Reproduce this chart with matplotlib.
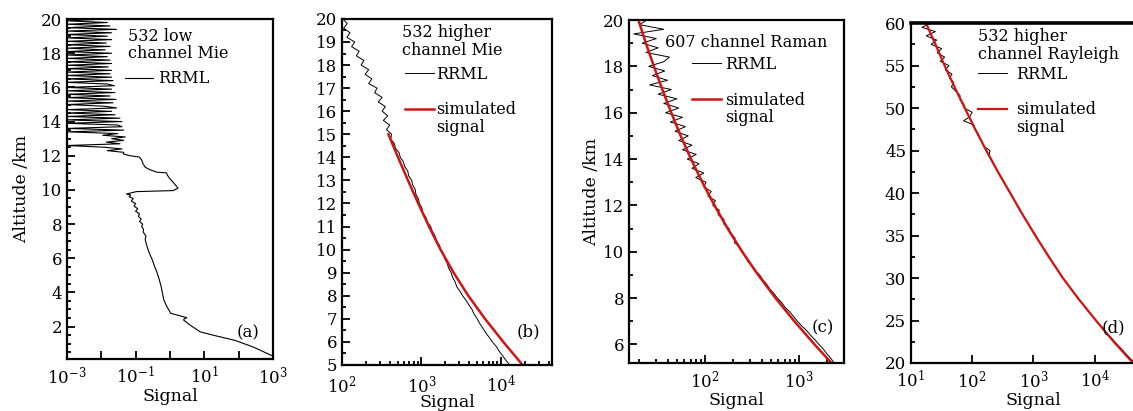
import numpy as np
import matplotlib
matplotlib.use('Agg')
from matplotlib import pyplot as plt
from matplotlib.lines import Line2D
from matplotlib.ticker import LogLocator, NullFormatter

plt.rcParams['font.family'] = 'DejaVu Serif'
plt.rcParams['mathtext.fontset'] = 'dejavuserif'

# (a) 532 low channel Mie, smooth part (km, signal)
a_alt_low = [0.30, 0.79, 1.19, 1.49, 1.69, 2.08, 2.38, 2.45, 2.52, 2.60, 2.78, 3.2, 3.57, 4.0,
             4.37, 4.8, 5.16, 5.5, 5.95, 6.3, 6.75, 7.1, 7.3, 7.54, 7.7, 7.85, 8.0, 8.15, 8.3,
             8.45, 8.6, 8.75, 8.9, 9.05, 9.2, 9.35, 9.5, 9.6, 9.7, 9.76, 9.9, 9.96, 10.1, 10.4,
             10.65, 10.85, 11.0, 11.04, 11.2, 11.33, 11.53, 11.75, 11.92, 12.0, 12.1]
a_sig_low = [930, 275, 79, 18.6, 7.6, 3.9, 2.5, 2.6, 3.1, 2.2, 1.05, 0.80, 0.66, 0.60,
             0.55, 0.48, 0.42, 0.36, 0.30, 0.25, 0.21, 0.19, 0.20, 0.166, 0.17, 0.15, 0.16, 0.13, 0.145,
             0.12, 0.13, 0.10, 0.115, 0.09, 0.10, 0.075, 0.085, 0.065, 0.072, 0.054, 0.105, 1.23, 1.72, 1.3,
             1.0, 0.85, 0.79, 0.41, 0.25, 0.19, 0.165, 0.15, 0.13, 0.07, 0.044]
# noisy part, 12.2 .. 20.0 km every 0.1 km
a_sig_noise = [0.045, 0.015, 0.04, 0.012, 0.001, 0.035, 0.014, 0.045, 0.02, 0.05,
               0.011, 0.03, 0.001, 0.045, 0.001, 0.04, 0.03, 0.001, 0.04, 0.001,
               0.035, 0.001, 0.025, 0.001, 0.02, 0.001, 0.028, 0.012, 0.001, 0.022,
               0.001, 0.027, 0.001, 0.018, 0.001, 0.025, 0.001, 0.02, 0.001, 0.024,
               0.015, 0.001, 0.022, 0.001, 0.02, 0.001, 0.018, 0.001, 0.02, 0.001,
               0.016, 0.001, 0.02, 0.001, 0.018, 0.001, 0.015, 0.001, 0.02, 0.001,
               0.013, 0.001, 0.018, 0.001, 0.014, 0.001, 0.02, 0.001, 0.015, 0.001,
               0.02, 0.001, 0.028, 0.001, 0.018, 0.001, 0.015, 0.001, 0.012]

# (b) 532 higher channel Mie, log10(signal), 5 .. 20 km every 0.2 km
b_rrml_lg = [4.110, 4.063, 4.022, 3.978, 3.942, 3.893, 3.852, 3.808, 3.772, 3.733,
             3.702, 3.663, 3.637, 3.598, 3.562, 3.518, 3.483, 3.443, 3.424, 3.391,
             3.374, 3.342, 3.324, 3.294, 3.276, 3.241, 3.225, 3.186, 3.170, 3.135,
             3.116, 3.075, 3.056, 3.014, 3.006, 2.974, 2.962, 2.929, 2.922, 2.888,
             2.878, 2.838, 2.828, 2.788, 2.773, 2.733, 2.718, 2.672, 2.658, 2.612,
             2.625, 2.560, 2.600, 2.520, 2.575, 2.505, 2.545, 2.455, 2.505, 2.410,
             2.440, 2.335, 2.375, 2.290, 2.335, 2.240, 2.275, 2.180, 2.215, 2.120,
             2.160, 2.060, 2.100, 2.020, 2.065, 2.010]
b_sim_alt = [5.0, 6.0, 7.0, 8.0, 9.0, 10.0, 11.0, 12.0, 13.0, 14.0, 15.0]
b_sim_lg = [4.273, 4.03, 3.80, 3.59, 3.405, 3.24, 3.095, 2.96, 2.83, 2.705, 2.584]

# (c) 607 channel Raman, 5.2 .. 20 km every 0.2 km
c_rrml_lg = [3.375, 3.338, 3.296, 3.258, 3.212, 3.170, 3.122, 3.080, 3.028, 2.982,
             2.943, 2.903, 2.851, 2.817, 2.769, 2.733, 2.687, 2.655, 2.613, 2.581,
             2.522, 2.496, 2.452, 2.430, 2.392, 2.368, 2.312, 2.318, 2.262, 2.255,
             2.198, 2.200, 2.138, 2.150, 2.082, 2.110, 2.030, 2.065, 1.985, 2.010,
             1.900, 1.985, 1.860, 1.935, 1.810, 1.905, 1.760, 1.860, 1.720, 1.820,
             1.680, 1.790, 1.630, 1.760, 1.580, 1.720, 1.560, 1.700, 1.500, 1.640,
             1.410, 1.600, 1.440, 1.570, 1.400, 1.560, 1.620, 1.370, 1.500, 1.330,
             1.480, 1.240, 1.560, 1.300, 1.380]
c_sim_alt = [5.2, 6.0, 7.0, 8.0, 9.0, 10.0, 11.0, 12.0, 13.0, 14.0, 15.0, 16.0, 17.0, 18.0, 19.0, 20.0]
c_sim_lg = [3.345, 3.165, 2.95, 2.75, 2.565, 2.395, 2.24, 2.10, 1.97, 1.85, 1.74, 1.64, 1.545, 1.455, 1.37, 1.29]

# (d) 532 higher channel Rayleigh
d_rrml_alt_lo = [20, 22, 24, 26, 28, 30, 32, 34, 36, 38, 40, 42, 44]
d_rrml_lg_lo = [4.65, 4.39, 4.14, 3.91, 3.69, 3.48, 3.30, 3.12, 2.95, 2.775, 2.625, 2.455, 2.31]
# 44.5 .. 60 km every 0.5 km
d_rrml_lg_hi = [2.275, 2.29, 2.19, 2.165, 2.12, 2.10, 2.04, 2.03, 1.86, 1.96,
                2.00, 1.87, 1.86, 1.80, 1.80, 1.73, 1.66, 1.70, 1.63, 1.67,
                1.56, 1.62, 1.48, 1.55, 1.43, 1.50, 1.33, 1.42, 1.25, 1.40,
                1.18, 1.32]
d_sim_alt = [20, 22.5, 25, 27.5, 30, 32.5, 35, 37.5, 40, 42.5, 45, 47.5, 50, 52.5, 55, 57.5, 60]
d_sim_lg = [4.625, 4.31, 4.02, 3.74, 3.48, 3.25, 3.03, 2.82, 2.62, 2.42, 2.23, 2.05, 1.88, 1.71, 1.55, 1.40, 1.245]

a_xticks = [1e-3, 1e-2, 1e-1, 1e0, 1e1, 1e2, 1e3]
a_xticklabels = ['$10^{-3}$', '', '$10^{-1}$', '', '$10^{1}$', '', '$10^{3}$']
b_xticks = [1e2, 1e3, 1e4]
b_xticklabels = ['$10^{2}$', '$10^{3}$', '$10^{4}$']
c_xticks = [1e2, 1e3]
c_xticklabels = ['$10^{2}$', '$10^{3}$']
d_xticks = [1e1, 1e2, 1e3, 1e4]
d_xticklabels = ['$10^{1}$', '$10^{2}$', '$10^{3}$', '$10^{4}$']

RED = '#d01414'
FS_TICK = 12
FS_LAB = 12.5
FS_LEG = 11.5

fig = plt.figure(figsize=(11.33, 4.11), dpi=100)
ax_a = fig.add_axes([0.0591, 0.1265, 0.1818, 0.827])
ax_b = fig.add_axes([0.3019, 0.112, 0.1853, 0.842])
ax_c = fig.add_axes([0.5552, 0.1168, 0.1898, 0.8345])
ax_d = fig.add_axes([0.8040, 0.1168, 0.2163, 0.827])


def style(ax, xticks, xlabels, ymaj, ymin, xpad=5, lpad=0):
    ax.set_xscale('log')
    ax.set_xticks(xticks)
    ax.set_xticklabels(xlabels)
    ax.xaxis.set_minor_locator(LogLocator(base=10, subs=np.arange(2, 10)))
    ax.xaxis.set_minor_formatter(NullFormatter())
    ax.set_yticks(ymaj)
    ax.set_yticks(ymin, minor=True)
    ax.tick_params(which='both', direction='in', top=False, right=False, width=1.3,
                   labelsize=FS_TICK)
    ax.tick_params(which='major', length=6)
    ax.tick_params(which='minor', length=3)
    ax.tick_params(axis='x', pad=xpad)
    for s in ax.spines.values():
        s.set_linewidth(1.6)
    ax.set_xlabel('Signal', fontsize=FS_LAB, labelpad=lpad)


def key(ax, title, tx, ty, handles, labels, lx, ly, pad=0.3):
    ax.text(tx, ty, title, transform=ax.transAxes, ha='left', va='top',
            fontsize=FS_LEG, linespacing=1.05)
    ax.legend(handles, labels, loc='upper left', bbox_to_anchor=(lx, ly), frameon=False,
              borderpad=0, borderaxespad=0, handlelength=1.8, handletextpad=pad,
              labelspacing=0.05, fontsize=FS_LEG)


blank = Line2D([], [], color='none')

# (a)
a_alt = a_alt_low + list(np.linspace(12.2, 20.0, len(a_sig_noise)))
a_sig = a_sig_low + a_sig_noise
la, = ax_a.plot(a_sig, a_alt, color='black', lw=0.8)
ax_a.set_xlim(1e-3, 1e3)
ax_a.set_ylim(0.1, 20)
style(ax_a, a_xticks, a_xticklabels, np.arange(2, 21, 2),
      [v for v in np.arange(0.5, 20.01, 0.5) if v % 2 != 0])
ax_a.set_ylabel('Altitude /km', fontsize=FS_LAB, labelpad=8)
key(ax_a, '532 low\nchannel Mie', 0.296, 0.975, [la], ['RRML'], 0.28, 0.85)
ax_a.text(0.879, 0.076, '(a)', transform=ax_a.transAxes, ha='center', va='center', fontsize=FS_TICK)

# (b)
b_alt = np.linspace(5, 20, len(b_rrml_lg))
lb, = ax_b.plot(10 ** np.array(b_rrml_lg), b_alt, color='black', lw=0.7)
sb, = ax_b.plot(10 ** np.array(b_sim_lg), b_sim_alt, color=RED, lw=1.8)
ax_b.set_xlim(1e2, 4.4e4)
ax_b.set_ylim(5, 20)
style(ax_b, b_xticks, b_xticklabels, np.arange(5, 21, 1), np.arange(5.5, 20, 1),
      xpad=7, lpad=-2)
key(ax_b, '532 higher\nchannel Mie', 0.286, 0.985, [lb, blank, sb, blank],
    ['RRML', ' ', 'simulated', 'signal'], 0.30, 0.865, pad=0.15)
ax_b.text(0.886, 0.095, '(b)', transform=ax_b.transAxes, ha='center', va='center', fontsize=FS_TICK)

# (c)
c_alt = np.linspace(5.2, 20, len(c_rrml_lg))
lc, = ax_c.plot(10 ** np.array(c_rrml_lg), c_alt, color='black', lw=0.7)
sc, = ax_c.plot(10 ** np.array(c_sim_lg), c_sim_alt, color=RED, lw=1.8)
ax_c.set_xlim(15.5, 3015)
ax_c.set_ylim(5.2, 20)
style(ax_c, c_xticks, c_xticklabels, np.arange(6, 21, 2), np.arange(7, 20, 2))
ax_c.set_ylabel('Altitude /km', fontsize=FS_LAB, labelpad=2)
key(ax_c, '607 channel Raman', 0.167, 0.96, [lc, blank, sc, blank],
    ['RRML', ' ', 'simulated', 'signal'], 0.293, 0.895)
ax_c.text(0.902, 0.102, '(c)', transform=ax_c.transAxes, ha='center', va='center', fontsize=FS_TICK)

# (d)
d_alt = d_rrml_alt_lo + list(np.linspace(44.5, 60, len(d_rrml_lg_hi)))
d_lg = d_rrml_lg_lo + d_rrml_lg_hi
ld, = ax_d.plot(10 ** np.array(d_lg), d_alt, color='black', lw=0.7)
sd, = ax_d.plot(10 ** np.array(d_sim_lg), d_sim_alt, color=RED, lw=1.6)
ax_d.set_xlim(1e1, 1e5)
ax_d.set_ylim(20, 60)
style(ax_d, d_xticks, d_xticklabels, np.arange(20, 61, 5), np.arange(22.5, 60, 5))
ax_d.spines['top'].set_linewidth(2.6)
key(ax_d, '532 higher\nchannel Rayleigh', 0.273, 0.985, [ld, blank, sd, blank],
    ['RRML', ' ', 'simulated', 'signal'], 0.273, 0.875, pad=0.6)
ax_d.text(0.78, 0.103, '(d)', transform=ax_d.transAxes, ha='left', va='center', fontsize=FS_TICK)

plt.savefig('out.png', dpi=100)
